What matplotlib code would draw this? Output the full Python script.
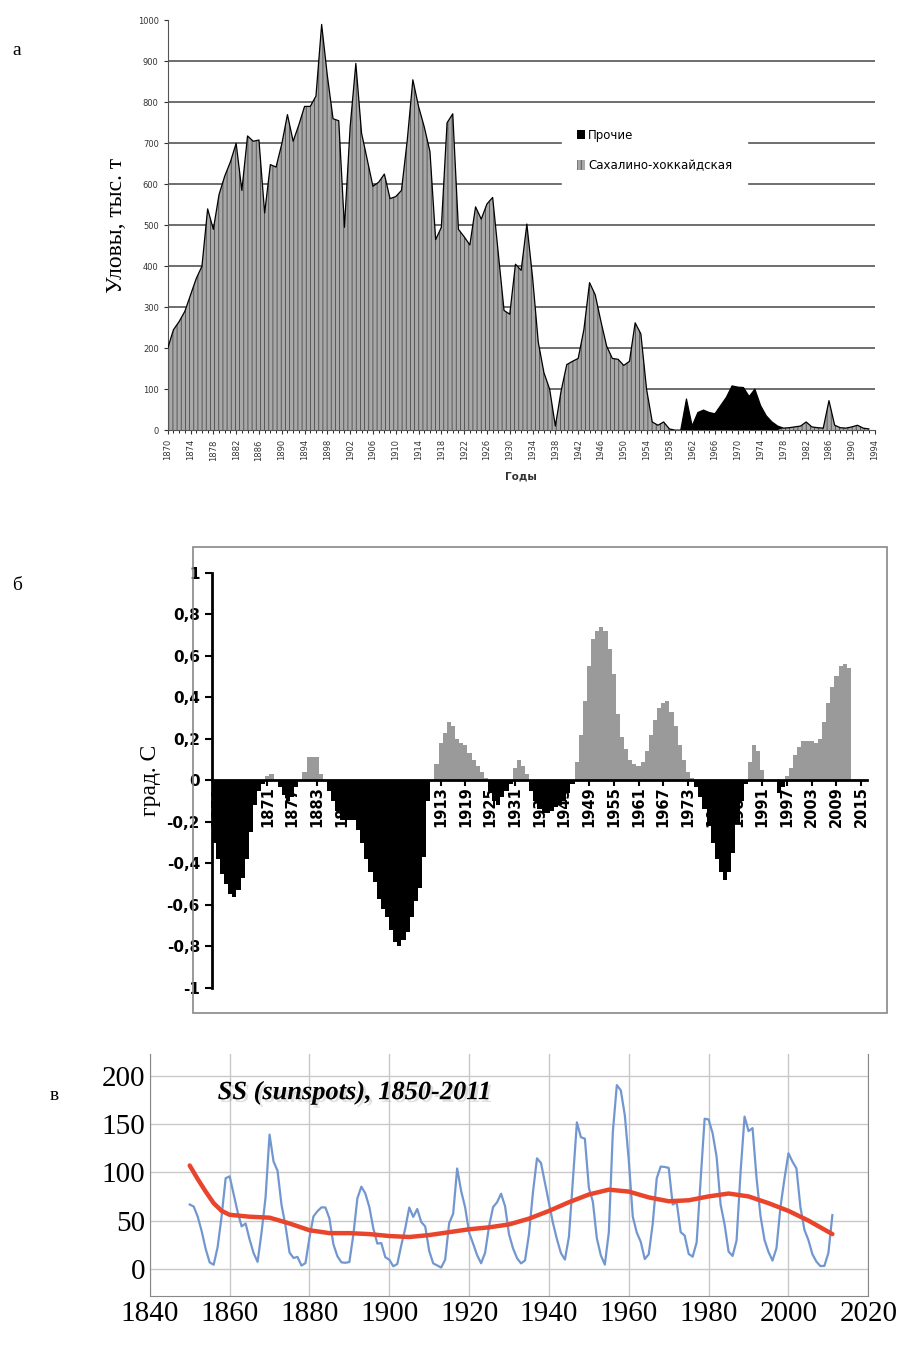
import numpy as np
import matplotlib
matplotlib.use("Agg")
import matplotlib.pyplot as plt
from matplotlib.patches import Rectangle
import matplotlib.patheffects as pe

# ---------------------------------------------------------------------------
# Panel a: catches, thousand tonnes, 1870-1993
# ---------------------------------------------------------------------------
catch_years = list(range(1870, 1994))
catch_sakh = [200, 245, 265, 290, 330, 370, 400, 540, 490, 575,
              620, 655, 700, 585, 718, 705, 708, 530, 648, 642,
              698, 770, 705, 745, 790, 790, 815, 990, 865, 760,
              755, 495, 740, 895, 725, 660, 595, 605, 625, 565,
              570, 585, 705, 855, 790, 740, 680, 465, 495, 750,
              772, 490, 472, 452, 545, 515, 552, 568, 430, 292,
              283, 405, 390, 503, 373, 215, 140, 100, 10, 95,
              160, 168, 175, 245, 360, 330, 265, 205, 175, 173,
              158, 168, 262, 235, 100, 20, 12, 20, 3, 0,
              0, 0, 0, 0, 0, 0, 0, 0, 0, 0,
              0, 0, 0, 0, 0, 0, 0, 0, 5, 6,
              8, 10, 20, 8, 6, 5, 72, 12, 6, 5,
              8, 12, 5, 3]
catch_other = [0] * 91 + [76, 10, 43, 49, 43, 40, 60, 80, 108, 105,
                          104, 82, 100, 60, 35, 20, 10] + [0] * 16

# ---------------------------------------------------------------------------
# Panel б: temperature anomaly, deg C, 1858-2012
# ---------------------------------------------------------------------------
temp_start = 1858
temp_vals = [-0.3, -0.38, -0.45, -0.5, -0.55, -0.56, -0.53, -0.47, -0.38, -0.25, -0.12, -0.05, -0.02,
             0.02, 0.03, 0.0,
             -0.03, -0.07, -0.1, -0.08, -0.03, 0.0,
             0.04, 0.11, 0.11, 0.11, 0.03, 0.0,
             -0.05, -0.1, -0.15, -0.19, -0.19, -0.19, -0.19, -0.24, -0.3, -0.38, -0.44, -0.49, -0.57,
             -0.62, -0.66, -0.72, -0.78, -0.8, -0.77, -0.73, -0.66, -0.58, -0.52, -0.37, -0.1, 0.0,
             0.08, 0.18, 0.23, 0.28, 0.26, 0.2, 0.18, 0.17, 0.13, 0.1, 0.07, 0.04, 0.01,
             -0.05, -0.1, -0.12, -0.08, -0.05, -0.02,
             0.06, 0.1, 0.07, 0.03,
             -0.05, -0.1, -0.14, -0.16, -0.16, -0.15, -0.13, -0.12, -0.1, -0.06, -0.02,
             0.09, 0.22, 0.38, 0.55, 0.68, 0.72, 0.74, 0.72, 0.63, 0.51, 0.32, 0.21, 0.15, 0.1,
             0.08, 0.07, 0.09, 0.14, 0.22, 0.29, 0.35, 0.37, 0.38, 0.33, 0.26, 0.17, 0.1, 0.04, 0.01,
             -0.03, -0.08, -0.14, -0.22, -0.3, -0.38, -0.44, -0.48, -0.44, -0.35, -0.21, -0.1, -0.02,
             0.09, 0.17, 0.14, 0.05, 0.0, 0.0, 0.0, -0.06, -0.03,
             0.02, 0.06, 0.12, 0.16, 0.19, 0.19, 0.19, 0.18, 0.2, 0.28, 0.37, 0.45, 0.5, 0.55, 0.56, 0.54]
temp_years = [temp_start + i for i in range(len(temp_vals))]
temp_ticks = list(range(1859, 2016, 6))
temp_yticks = [-1, -0.8, -0.6, -0.4, -0.2, 0, 0.2, 0.4, 0.6, 0.8, 1]
temp_ylabels = ["-1", "-0,8", "-0,6", "-0,4", "-0,2", "0", "0,2", "0,4", "0,6", "0,8", "1"]

# ---------------------------------------------------------------------------
# Panel в: sunspots 1850-2011 and smoothed trend
# ---------------------------------------------------------------------------
ss_years = list(range(1850, 2012))
ss_vals = [66.6, 64.5, 54.1, 39.0, 20.6, 6.7, 4.3, 22.7, 54.8, 93.8,
           95.8, 77.2, 59.1, 44.0, 47.0, 30.5, 16.3, 7.3, 37.6, 74.0,
           139.0, 111.2, 101.6, 66.2, 44.7, 17.0, 11.3, 12.4, 3.4, 6.0,
           32.3, 54.3, 59.7, 63.7, 63.5, 52.2, 25.4, 13.1, 6.8, 6.3,
           7.1, 35.6, 73.0, 85.1, 78.0, 64.0, 41.8, 26.2, 26.7, 12.1,
           9.5, 2.7, 5.0, 24.4, 42.0, 63.5, 53.8, 62.0, 48.5, 43.9,
           18.6, 5.7, 3.6, 1.4, 9.6, 47.4, 57.1, 103.9, 80.6, 63.6,
           37.6, 26.1, 14.2, 5.8, 16.7, 44.3, 63.9, 69.0, 77.8, 64.9,
           35.7, 21.2, 11.1, 5.7, 8.7, 36.1, 79.7, 114.4, 109.6, 88.8,
           67.8, 47.5, 30.6, 16.3, 9.6, 33.2, 92.6, 151.6, 136.3, 134.7,
           83.9, 69.4, 31.5, 13.9, 4.4, 38.0, 141.7, 190.2, 184.8, 159.0,
           112.3, 53.9, 37.6, 27.9, 10.2, 15.1, 47.0, 93.8, 105.9, 105.5,
           104.5, 66.6, 68.9, 38.0, 34.5, 15.5, 12.6, 27.5, 92.5, 155.4,
           154.6, 140.4, 115.9, 66.6, 45.9, 17.9, 13.4, 29.4, 100.2, 157.6,
           142.6, 145.7, 94.3, 54.6, 29.9, 17.5, 8.6, 21.5, 64.3, 93.3,
           119.6, 111.0, 104.0, 63.7, 40.4, 29.8, 15.2, 7.5, 2.9, 3.1,
           16.5, 55.7]
trend_years = [1850, 1852, 1854, 1856, 1858, 1860, 1865, 1870, 1875, 1880,
               1885, 1890, 1895, 1900, 1905, 1910, 1915, 1920, 1925, 1930,
               1935, 1940, 1945, 1950, 1955, 1960, 1965, 1970, 1975, 1980,
               1985, 1990, 1995, 2000, 2005, 2011]
trend_vals = [107, 93, 80, 68, 60, 56, 54, 53, 47, 40,
              37, 37, 36, 34, 33, 35, 38, 41, 43, 46,
              52, 60, 69, 77, 82, 80, 74, 70, 71, 75,
              78, 75, 68, 60, 50, 36]

SERIF = "Liberation Serif"

fig = plt.figure(figsize=(8.97, 13.57), dpi=100)

# ---- a ----
ax1 = fig.add_axes([0.187, 0.683, 0.788, 0.302])
for v in range(100, 1000, 100):
    ax1.axhline(v, color="#555555", lw=1.2, zorder=0)
plt.rcParams["hatch.linewidth"] = 0.6
plt.rcParams["hatch.color"] = "#4a4a4a"
sakh = np.array(catch_sakh)
other = np.array(catch_other)
ax1.fill_between(catch_years, 0, sakh, facecolor="#a8a8a8", hatch="||||",
                 edgecolor="#4a4a4a", lw=0, zorder=2, label="Сахалино-хоккайдская")
ax1.fill_between(catch_years, sakh, sakh + other, facecolor="black",
                 lw=0, zorder=3, label="Прочие")
ax1.plot(catch_years, sakh + other, color="black", lw=0.9, zorder=4)
ax1.set_xlim(1870, 1994)
ax1.set_ylim(0, 1000)
ax1.set_xticks(range(1870, 1995, 4))
ax1.set_xticks(range(1870, 1995, 1), minor=True)
ax1.tick_params(axis="x", labelsize=6, rotation=90, colors="#333333", length=3)
ax1.tick_params(axis="x", which="minor", length=2)
ax1.set_yticks(range(0, 1001, 100))
ax1.tick_params(axis="y", labelsize=6, colors="#333333", length=3)
for s in ["top", "right"]:
    ax1.spines[s].set_visible(False)
ax1.spines["left"].set_color("#555555")
ax1.spines["bottom"].set_color("#555555")
ax1.set_xlabel("Годы", fontsize=7.5, fontweight="bold", color="#333333", labelpad=8)
ax1.set_ylabel("Уловы, тыс. т", fontsize=17, family=SERIF, labelpad=8)
h, l = ax1.get_legend_handles_labels()
leg = ax1.legend(h[::-1], l[::-1], loc="upper left", bbox_to_anchor=(0.55, 0.785),
                 fontsize=8.5, frameon=True, edgecolor="white", facecolor="white",
                 framealpha=1, handlelength=0.7, handleheight=0.9, handletextpad=0.3,
                 borderpad=1.2, labelspacing=1.5, fancybox=False)
leg.set_zorder(5)

# ---- б ----
fig.patches.append(Rectangle((193 / 897, 1 - 1013 / 1357), 694 / 897, 466 / 1357,
                             transform=fig.transFigure, fill=False,
                             edgecolor="#888888", lw=1.2))
ax2 = fig.add_axes([0.236, 0.272, 0.731, 0.306])
tv = np.array(temp_vals)
cols = ["#9a9a9a" if v > 0 else "black" for v in tv]
ax2.bar(temp_years, tv, width=1.0, color=cols, zorder=3)
for yr in temp_ticks:
    ax2.text(yr, -0.03, str(yr), rotation=90, ha="center", va="top",
             fontsize=10.5, fontweight="bold", zorder=1)
ax2.set_xlim(1857.5, 2016.5)
ax2.set_ylim(-1, 1)
ax2.spines["bottom"].set_position(("data", 0))
ax2.spines["bottom"].set_linewidth(2)
ax2.spines["bottom"].set_zorder(4)
ax2.spines["left"].set_linewidth(2)
for s in ["top", "right"]:
    ax2.spines[s].set_visible(False)
ax2.set_xticks(temp_ticks)
ax2.tick_params(axis="x", labelbottom=False, length=4, width=1.5, direction="out")
ax2.set_yticks(temp_yticks)
ax2.set_yticklabels(temp_ylabels, fontsize=11, fontweight="bold")
ax2.tick_params(axis="y", length=5, width=1.5)
ax2.set_ylabel("град. С", fontsize=17, family=SERIF, labelpad=4)

# ---- в ----
ax3 = fig.add_axes([0.167, 0.045, 0.801, 0.178])
ax3.plot(ss_years, ss_vals, color="#7297d0", lw=1.6, zorder=3)
ax3.plot(trend_years, trend_vals, color="#e8452c", lw=3.2, zorder=4,
         solid_capstyle="round")
ax3.set_xlim(1840, 2020)
ax3.set_ylim(-28, 222)
ax3.set_xticks(range(1840, 2021, 20))
ax3.set_yticks(range(0, 201, 50))
ax3.grid(color="#c8c8c8", lw=1)
ax3.tick_params(labelsize=21, length=0)
for lab in ax3.get_xticklabels() + ax3.get_yticklabels():
    lab.set_family(SERIF)
ax3.spines["top"].set_visible(False)
for s in ["left", "bottom", "right"]:
    ax3.spines[s].set_color("#888888")
ax3.text(1857, 182, "SS (sunspots), 1850-2011", fontsize=19, style="italic",
         fontweight="bold", family=SERIF, va="center",
         path_effects=[pe.withSimplePatchShadow(offset=(2, -2), shadow_rgbFace="#999999")])

# panel letters
for txt, x, y in [("а", 12, 55), ("б", 12, 590), ("в", 50, 1100)]:
    fig.text(x / 897, 1 - y / 1357, txt, fontsize=14, family=SERIF)

fig.savefig("out.png", dpi=100)
